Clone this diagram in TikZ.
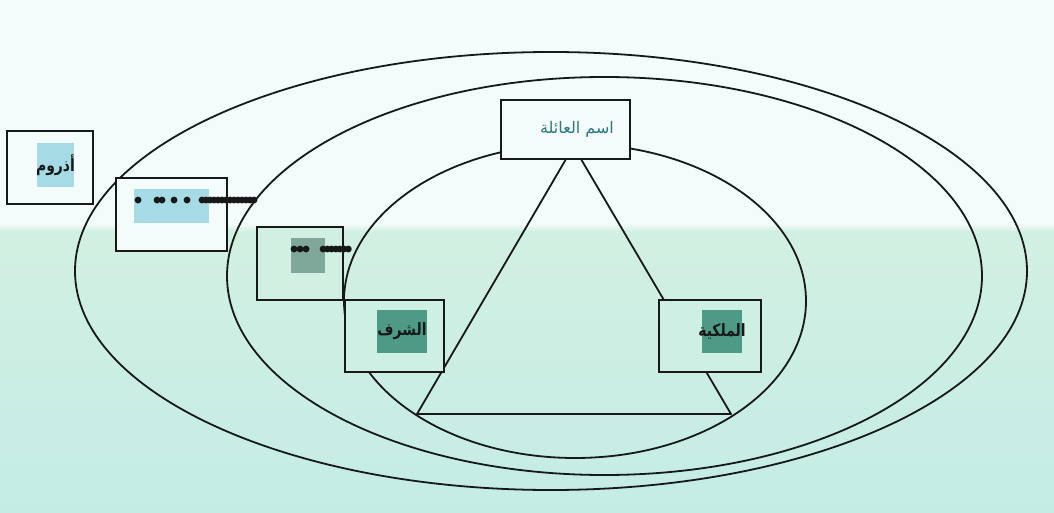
\documentclass[tikz,border=0pt]{standalone}
\usepackage{fontspec}
\newfontfamily\arabicfont[Script=Arabic]{DejaVu Sans}
\newfontfamily\arabicnarrow[Script=Arabic,FakeStretch=0.82]{DejaVu Sans}
\TeXXeTstate=1

\definecolor{paper}{HTML}{F3FCFB}
\definecolor{papermint}{HTML}{D2F0E2}
\definecolor{paperlow}{HTML}{C4ECE5}
\definecolor{hlblue}{HTML}{A6DAE4}
\definecolor{hlgrey}{HTML}{7FA89B}
\definecolor{hlteal}{HTML}{4E9A86}
\definecolor{inkteal}{HTML}{2C7683}
\definecolor{ink}{HTML}{161918}

\pgfdeclarelayer{paperlayer}
\pgfdeclarelayer{lines}
\pgfsetlayers{paperlayer,lines,main}

% one dot of a run, zero width so the kerns set the spacing
\newcommand\pip{\makebox[0pt]{\textbullet}}
\newcommand\dotrun[2]{\foreach \i in {1,...,#1}{\kern#2\pip}}
% word over a highlight of fixed size
\newcommand\hlword[1]{\makebox[0pt]{\beginR #1\endR}}

\begin{document}
\begin{tikzpicture}[x=1pt,y=-1pt,
  ring/.style={draw=ink,line width=1.8pt},
  box/.style={draw=ink,line width=1.9pt,inner sep=0pt},
  tag/.style={inner sep=0pt,text=ink,font=\arabicnarrow\bfseries\fontsize{17}{17}\selectfont},
  dots/.style={inner sep=0pt,text=ink,font=\fontsize{30}{30}\selectfont}]
  \useasboundingbox (0,0) rectangle (1054,513);

  % paper
  \begin{pgfonlayer}{paperlayer}
    \fill[paper] (0,0) rectangle (1054,232);
    \shade[top color=papermint,bottom color=paperlow] (0,230) rectangle (1054,513);
    \shade[top color=paper,bottom color=papermint] (0,224) rectangle (1054,231);
  \end{pgfonlayer}

  % boxes
  \node[box,fill=paper,minimum width=129,minimum height=59] (family) at (565.5,129.5) {};
  \node[box,fill=paper,minimum width=86,minimum height=73]  (adhrum) at (50,167.5) {};
  \node[box,fill=paper,minimum width=111,minimum height=73] (midbox) at (171.5,214.5) {};
  \node[box,fill=papermint,minimum width=86,minimum height=73] (smallbox) at (300,263.5) {};
  \node[box,fill=papermint!75!paperlow,minimum width=99,minimum height=72]  (sharaf) at (394.5,336) {};
  \node[box,fill=papermint!75!paperlow,minimum width=102,minimum height=72] (mulk) at (710,336) {};

  % rings and triangle, under the boxes
  \coordinate (baseL) at (417,414);
  \coordinate (baseR) at (731,414);
  \begin{pgfonlayer}{lines}
    \draw[ring] (551,271) ellipse [x radius=476,y radius=219];
    \draw[ring] (604.5,276) ellipse [x radius=377.5,y radius=199];
    \draw[ring] (575,301) ellipse [x radius=231,y radius=157];
    \draw[ring,line join=round] (family.south) -- (baseL) -- (baseR) -- ([xshift=16pt]family.south);
    \draw[ring,line width=2.6pt] (baseL) -- (baseR);
  \end{pgfonlayer}

  % labels
  \node[tag,text=inkteal,font=\arabicfont\fontsize{16}{16}\selectfont] (familytext) at (577,129) {\beginR اسم العائلة\endR};
  \node[tag,fill=hlblue,minimum width=37,minimum height=44] (adhrumtext) at (55.5,165) {\hlword{أذروم}};
  \node[tag,fill=hlteal,minimum width=50,minimum height=43] (sharaftext) at (402,331.5) {\hlword{الشرف}};
  \node[tag,fill=hlteal,minimum width=40,minimum height=43] (mulktext) at (722,331.5) {\hlword{الملكية}};

  % dotted gaps
  \node[fill=hlblue,minimum width=75,minimum height=34,inner sep=0pt] (midtag) at (171.5,206) {};
  \node[dots,anchor=west] (middots) at (132,203)
    {\kern6pt\pip\kern19pt\pip\kern5pt\pip\kern12pt\pip\kern13pt\pip\kern15pt\pip\dotrun{13}{4pt}};
  \node[fill=hlgrey,minimum width=34,minimum height=35,inner sep=0pt] (smalltag) at (308,255.5) {};
  \node[dots,anchor=west] (smalldots) at (290,252)
    {\kern4pt\pip\kern6pt\pip\kern6pt\pip\kern17pt\pip\dotrun{6}{4.2pt}};
\end{tikzpicture}
\end{document}
